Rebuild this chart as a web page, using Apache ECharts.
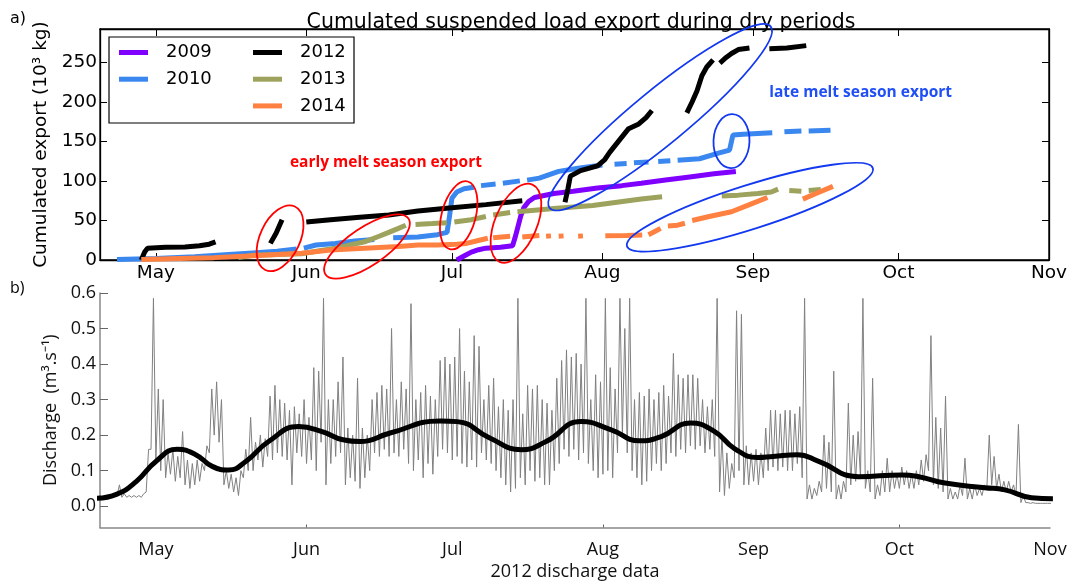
<!DOCTYPE html>
<html lang="en">
<head>
<meta charset="UTF-8" />
<title>Cumulated suspended load export during dry periods</title>
<script src="https://cdn.jsdelivr.net/npm/echarts@6/dist/echarts.min.js"></script>
<style>
  html, body { margin: 0; padding: 0; background: #fff; }
  #main { width: 1070px; height: 584px; }
</style>
</head>
<body>
<div id="main"></div>
<script>
// x values are days counted from 1 May
var monthDays = [0, 31, 61, 92, 123, 153, 184];
var monthNames = ['May', 'Jun', 'Jul', 'Aug', 'Sep', 'Oct', 'Nov'];
var bottomTickDays = [31, 92, 153];
var exportTicks = [0, 50, 100, 150, 200, 250];
var dischargeTicks = [0, 0.1, 0.2, 0.3, 0.4, 0.5, 0.6];

// cumulated export (10^3 kg), one list of segments per year (gaps = wet periods)
var y2009 = [
  [[62,0],[63.5,5],[65,10],[66.5,13],[68,15],[71,16],[73.5,18],[74,28],[74.6,42],[75.2,56],[75.8,66],[76.8,74],[78,79],[82,84],[86,87],[91,91],[96,94],[100,97],[105,101],[110,105],[115,109],[119.5,112]]
];
var y2010 = [
  [[-8,0.5],[0,2],[8,4],[15,7],[20,9],[25,11],[29,14]],
  [[30.5,15],[33,19],[37,21],[41,24],[45,26]],
  [[48.9,28],[54,29],[58,32],[60,35],[60.5,55],[61,78],[62,86],[63.5,90],[65.5,92]],
  [[67,94],[70,96]],
  [[71.5,97],[75,100]],
  [[76.5,101],[79,103.5],[83,112],[87,116],[92,120]],
  [[94.5,121],[97,122]],
  [[98.5,123],[101.5,124]],
  [[103.5,124.5],[106,125.5]],
  [[107.5,126],[112,128],[115.9,135],[118.2,139],[118.6,150],[118.9,158],[121,159],[124,160],[127,161]],
  [[129.5,162],[133,163]],
  [[134.5,163],[139,164]]
];
var y2012 = [
  [[-3,0],[-2.3,10],[-1.7,15],[2,16],[6,16.5],[9,18],[11,20],[12.3,23]],
  [[23.6,21],[24.8,34],[25.5,44],[26,51]],
  [[31,48],[36,51],[42,54],[48,57],[54,62],[61,66],[68,70],[75.5,75]],
  [[84.3,73],[84.9,90],[85.4,106],[87.5,113],[91,119],[92.5,127],[93.5,136],[95.3,150],[97.4,166],[99.5,172],[101,180],[102.2,189]],
  [[109.4,186],[110.5,200],[111.5,214],[112.5,233],[113.5,244],[114.8,253]],
  [[116.2,249],[117.5,256],[118.6,261],[120,266],[122.3,268]],
  [[126.4,267],[130,268],[134,271]]
];
var y2013 = [
  [[17,3],[20,6],[25,7],[30,8],[34,12],[37,15],[40,19],[43,23],[46,30],[48,35],[50,40],[51.5,44]],
  [[53.5,45],[57,46],[60,47]],
  [[61.5,48],[65,51],[68,55]],
  [[69.5,57],[73,60]],
  [[74.5,61],[78,63],[82,65],[86,67],[90,69],[95,73],[100,77],[104.3,80]],
  [[116.6,81],[120,82],[124,84],[126.8,86],[128.2,89.6]],
  [[130.5,88],[133,87]],
  [[134.5,88],[137,89]]
];
var y2014 = [
  [[-3,0.5],[5,2],[12,3],[19,5],[25,7],[30,8.5],[36,12.5],[43,15],[50,17],[54,19],[58,19],[62,20],[64,21],[66,24],[68.4,27.5]],
  [[69.5,28],[73,30]],
  [[75.5,29],[79,31]],
  [[80.4,30],[81.4,30.5]],
  [[83,30],[84,30.5]],
  [[87,30],[88,30.5]],
  [[92.6,30.5],[97,31],[100.2,31.7]],
  [[101.5,32],[102.5,35],[104,40]],
  [[105.5,43],[107.5,44],[109,46.5]],
  [[110.5,50],[114,55],[118.6,61],[122.7,71],[126,79]],
  [[133.3,77],[136,84],[139.5,93]]
];

// 2012 discharge (m3/s): daily low and daily high, first entry = day -12
var qStartDay = -12;
var qLow = [
  .025,.025,.025,.025,.03,.025,.025,.025,.025,.025,.04,.16,
  .13,.1,.08,.09,.07,.08,.06,.05,.06,.07,.1,.15,.2,.18,.06,.05,.04,.03,.08,.1,
  .1,.13,.11,.14,.13,.15,.14,.13,.06,.15,.14,.12,.13,.1,.18,.06,.12,.14,.15,.06,
  .08,.07,.05,.08,.1,.15,.14,.16,.14,.15,.14,.16,.12,.1,.13,.08,.12,.09,.14,.16,
  .15,.13,.14,.12,.11,.13,.11,.15,.13,.12,.1,.08,.06,.04,.05,.08,.06,.1,.07,.08,
  .06,.06,.1,.12,.16,.14,.16,.13,.15,.12,.1,.08,.09,.1,.08,.15,.2,.15,.1,.08,
  .06,.07,.1,.12,.1,.12,.15,.14,.16,.15,.17,.16,.17,.15,.16,.14,.04,.03,.05,.08,
  .1,.06,.06,.07,.06,.08,.1,.11,.1,.11,.1,.1,.12,.08,.02,.02,.03,.04,.05,.04,
  .02,.02,.04,.06,.07,.08,.05,.04,.02,.03,.04,.04,.05,.05,.06,.05,.05,.06,.07,.1,
  .06,.05,.04,.02,.02,.02,.03,.02,.02,.03,.03,.05,.06,.05,.04,.04,.04,.03,.01,.01,
  .008,.008,.008,.008,.008
];
var qHigh = [
  .03,.03,.03,.035,.06,.035,.03,.03,.03,.035,.16,.585,
  .33,.3,.15,.16,.14,.21,.13,.12,.13,.12,.17,.33,.35,.3,.1,.09,.08,.1,.16,.25,
  .18,.2,.19,.31,.34,.3,.29,.27,.28,.26,.3,.25,.39,.38,.585,.3,.3,.35,.42,.22,
  .2,.36,.22,.2,.3,.32,.34,.33,.5,.3,.35,.33,.57,.3,.32,.34,.31,.3,.41,.42,
  .4,.42,.5,.38,.35,.48,.45,.3,.34,.36,.28,.3,.27,.3,.585,.26,.34,.33,.34,.3,
  .29,.27,.36,.41,.44,.42,.43,.4,.585,.3,.37,.35,.585,.39,.33,.585,.5,.585,.3,.32,
  .31,.33,.3,.32,.34,.31,.43,.37,.36,.37,.37,.36,.3,.28,.3,.585,.2,.15,.12,.55,
  .54,.17,.15,.16,.15,.22,.27,.27,.26,.27,.27,.26,.28,.585,.06,.05,.07,.2,.18,.38,
  .06,.07,.29,.2,.21,.585,.1,.36,.06,.1,.135,.1,.09,.11,.1,.09,.1,.13,.145,.48,
  .25,.22,.31,.05,.04,.06,.135,.05,.06,.05,.06,.2,.14,.09,.07,.07,.06,.23,.03,.01,
  .01,.008,.008,.008,.008
];
// smoothed discharge (thick black line)
var smoothDays = [-12.3,-8,-4,0,4.4,8.2,11.6,15,18.5,23.2,29.4,34.2,38.5,42,48.2,58.5,62,68.7,75.2,80.3,87.5,93.7,99.5,104,110,115,119,123.8,127,132,136.4,144.6,153.5,157,162.4,170.6,174.7,180.2,184.6];
var smoothQ = [.022,.034,.07,.126,.16,.145,.112,.102,.126,.182,.224,.21,.187,.182,.206,.24,.238,.192,.159,.182,.238,.215,.184,.196,.234,.21,.163,.137,.14,.145,.126,.083,.088,.083,.065,.052,.046,.024,.021];

// annotation ellipses: centre in (day, export), semi axes in px, major axis angle in degrees
var red = '#ff0000', blue = '#1238f0';
var ellipses = [
  {c: [25.6, 27.5], a: 35, b: 20, ang: 65, color: red},
  {c: [43.5, 17.1], a: 50, b: 19, ang: 34, color: red},
  {c: [62.4, 56.5], a: 35, b: 17, ang: 75, color: red},
  {c: [74.2, 46.5], a: 42, b: 21, ang: 67, color: red},
  {c: [103.9, 180.5], a: 143, b: 27, ang: 39.4, color: blue},
  {c: [118.6, 150.2], a: 27, b: 18, ang: 88, color: blue},
  {c: [122.4, 66.8], a: 129, b: 22, ang: 17.6, color: blue}
];

function joinSegments(segs) {
  var out = [];
  segs.forEach(function (s, i) {
    if (i > 0) out.push([(out[out.length - 1][0] + s[0][0]) / 2, null]);
    out = out.concat(s);
  });
  return out;
}

var grayData = [];
for (var i = 0; i < qLow.length; i++) {
  grayData.push([qStartDay + i, qLow[i]]);
  grayData.push([qStartDay + i + 0.5, qHigh[i]]);
}
var smoothData = smoothDays.map(function (d, i) { return [d, smoothQ[i]]; });

var xMin = -11.5, xMax = 184;
var topFont = 'DejaVu Sans', botFont = 'Open Sans';

function monthLabel(v) {
  var k = monthDays.indexOf(v);
  return k >= 0 ? monthNames[k] : '';
}

var myChart = echarts.init(document.getElementById('main'));

function yearSeries(name, segs, color) {
  return {
    name: name, type: 'line', xAxisIndex: 0, yAxisIndex: 0,
    data: joinSegments(segs), symbol: 'none', color: color,
    lineStyle: {width: 5, color: color, cap: 'butt'}
  };
}

var legendBase = {
  orient: 'vertical', top: 43.5, icon: 'rect', itemWidth: 29, itemHeight: 5,
  itemGap: 8.7, padding: 0, selectedMode: false,
  textStyle: {fontFamily: topFont, fontSize: 18, color: '#000', lineHeight: 18, padding: [0, 0, 0, 13]}
};

myChart.setOption({
  animation: false,
  title: {
    text: 'Cumulated suspended load export during dry periods',
    left: 576, top: 7, textAlign: 'center',
    textStyle: {fontFamily: topFont, fontSize: 20.5, fontWeight: 'normal', color: '#000'}
  },
  legend: [
    Object.assign({}, legendBase, {left: 119, data: ['2009', '2010']}),
    Object.assign({}, legendBase, {left: 253, data: ['2012', '2013', '2014']})
  ],
  grid: [
    {left: 100, top: 29, width: 950, height: 231, show: true, borderColor: '#000', borderWidth: 1.3},
    {left: 100, top: 293, width: 950, height: 234.5}
  ],
  xAxis: [
    {
      type: 'value', gridIndex: 0, min: xMin, max: xMax,
      axisLine: {onZero: false, lineStyle: {color: '#000', width: 1.3}},
      axisTick: {inside: true, length: 7, customValues: monthDays, lineStyle: {color: '#000'}},
      axisLabel: {customValues: monthDays, formatter: monthLabel, margin: 4,
        fontFamily: topFont, fontSize: 18.5, color: '#000'},
      splitLine: {show: false}
    },
    {
      type: 'value', gridIndex: 0, position: 'top', min: xMin, max: xMax,
      axisLine: {onZero: false, lineStyle: {color: '#000', width: 1.3}},
      axisTick: {inside: true, length: 7, customValues: monthDays, lineStyle: {color: '#000'}},
      axisLabel: {show: false}, splitLine: {show: false}
    },
    {
      type: 'value', gridIndex: 1, min: xMin, max: xMax,
      name: '2012 discharge data', nameLocation: 'middle', nameGap: 35,
      nameTextStyle: {fontFamily: botFont, fontSize: 18, color: '#111'},
      axisLine: {onZero: false, lineStyle: {color: '#888', width: 1.5}},
      axisTick: {inside: true, length: 3, customValues: bottomTickDays, lineStyle: {color: '#666'}},
      axisLabel: {customValues: monthDays, formatter: monthLabel, margin: 13,
        fontFamily: botFont, fontSize: 18, color: '#111'},
      splitLine: {show: false}
    }
  ],
  yAxis: [
    {
      type: 'value', gridIndex: 0, min: 0, max: 292,
      name: 'Cumulated export (10³ kg)', nameLocation: 'middle', nameGap: 39,
      nameTextStyle: {fontFamily: topFont, fontSize: 18.5, color: '#000'},
      axisLine: {onZero: false, lineStyle: {color: '#000', width: 1.3}},
      axisTick: {inside: true, length: 7, customValues: exportTicks, lineStyle: {color: '#000'}},
      axisLabel: {customValues: exportTicks, margin: 3, fontFamily: topFont, fontSize: 18.5, color: '#000'},
      splitLine: {show: false}
    },
    {
      type: 'value', gridIndex: 0, position: 'right', min: 0, max: 292,
      axisLine: {onZero: false, lineStyle: {color: '#000', width: 1.3}},
      axisTick: {inside: true, length: 7, customValues: exportTicks, lineStyle: {color: '#000'}},
      axisLabel: {show: false}, splitLine: {show: false}
    },
    {
      type: 'value', gridIndex: 1, min: -0.06, max: 0.6,
      name: 'Discharge  (m³.s⁻¹)', nameLocation: 'middle', nameGap: 40,
      nameTextStyle: {fontFamily: botFont, fontSize: 18, color: '#111'},
      axisLine: {onZero: false, lineStyle: {color: '#888', width: 1.5}},
      axisTick: {inside: true, length: 8, customValues: dischargeTicks, lineStyle: {color: '#666'}},
      axisLabel: {customValues: dischargeTicks, margin: 4, fontFamily: botFont, fontSize: 18, color: '#111',
        formatter: function (v) { return v.toFixed(1); }},
      splitLine: {show: false}
    }
  ],
  series: [
    yearSeries('2009', y2009, '#8000ff'),
    yearSeries('2010', y2010, '#3a87ef'),
    yearSeries('2012', y2012, '#000000'),
    yearSeries('2013', y2013, '#9da35c'),
    yearSeries('2014', y2014, '#ff8142'),
    {
      name: 'discharge', type: 'line', xAxisIndex: 2, yAxisIndex: 2,
      data: grayData, symbol: 'none', color: '#808080',
      lineStyle: {width: 1, color: '#808080'}
    },
    {
      name: 'smoothed', type: 'line', xAxisIndex: 2, yAxisIndex: 2,
      data: smoothData, symbol: 'none', smooth: 0.5, color: '#000',
      lineStyle: {width: 5, color: '#000'}
    }
  ]
});

// annotations, placed from data coordinates
var graphics = [
  {type: 'rect', shape: {x: 109, y: 37, width: 245, height: 86},
    style: {fill: 'none', stroke: '#000', lineWidth: 1.2}, z: 90, silent: true},
  {type: 'text', x: 10, y: 11, style: {text: 'a)', font: '16px "DejaVu Sans"', fill: '#000'}},
  {type: 'text', x: 10, y: 280, style: {text: 'b)', font: '16px "Open Sans"', fill: '#000'}}
];
ellipses.forEach(function (e) {
  var p = myChart.convertToPixel({gridIndex: 0}, e.c);
  graphics.push({
    type: 'ellipse', x: p[0], y: p[1], rotation: e.ang * Math.PI / 180,
    shape: {cx: 0, cy: 0, rx: e.a, ry: e.b},
    style: {fill: 'none', stroke: e.color, lineWidth: 1.8}, z: 100, silent: true
  });
});
var pRed = myChart.convertToPixel({gridIndex: 0}, [47.4, 123]);
var pBlue = myChart.convertToPixel({gridIndex: 0}, [145.2, 211.7]);
graphics.push({type: 'text', x: pRed[0], y: pRed[1], z: 100,
  style: {text: 'early melt season export', font: 'bold 15.5px "Open Sans"', fill: red, align: 'center', verticalAlign: 'middle'}});
graphics.push({type: 'text', x: pBlue[0], y: pBlue[1], z: 100,
  style: {text: 'late melt season export', font: 'bold 15.5px "Open Sans"', fill: '#1f4ff5', align: 'center', verticalAlign: 'middle'}});
myChart.setOption({graphic: graphics});
</script>
</body>
</html>
